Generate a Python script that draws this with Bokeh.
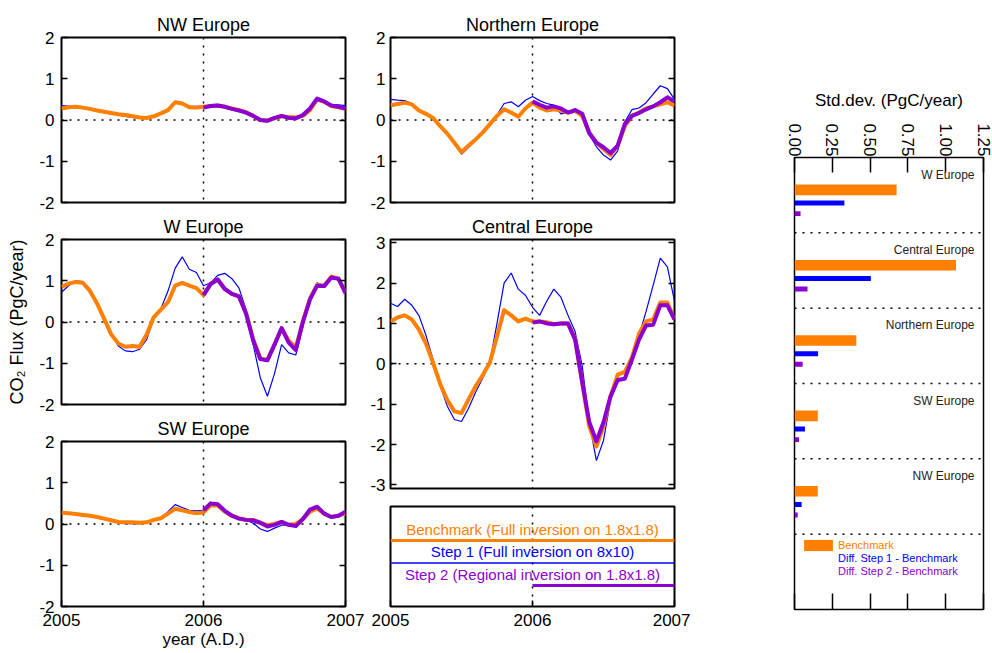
import math
from bokeh.plotting import figure
from bokeh.layouts import row, column
from bokeh.models import (Range1d, LinearAxis, FixedTicker, Span, Legend, LegendItem,
                          PrintfTickFormatter)
from bokeh.core.properties import value
from bokeh.embed import file_html
from bokeh.resources import INLINE

FONT = "Liberation Sans"
ORANGE = "#FF8000"
BLUE = "#0000FF"
PURPLE = "#8C00D2"

# ---------------- data ----------------
years = [round(2005 + 0.05 * k, 2) for k in range(41)]
step2_years = years[20:]

nw_benchmark = [0.28, 0.31, 0.32, 0.30, 0.27, 0.23, 0.20, 0.17, 0.14, 0.12, 0.09, 0.06, 0.05, 0.09, 0.16, 0.24, 0.43, 0.40, 0.31, 0.30, 0.32,
                0.34, 0.35, 0.32, 0.28, 0.24, 0.19, 0.10, 0.00, -0.01, 0.04, 0.09, 0.07, 0.06, 0.10, 0.24, 0.50, 0.44, 0.34, 0.31, 0.27]
nw_step1 = [0.35, 0.34, 0.33, 0.31, 0.27, 0.23, 0.19, 0.15, 0.12, 0.09, 0.06, 0.04, 0.05, 0.10, 0.18, 0.26, 0.44, 0.42, 0.34, 0.33, 0.34,
            0.35, 0.36, 0.33, 0.28, 0.23, 0.18, 0.09, -0.02, -0.04, 0.03, 0.10, 0.06, 0.04, 0.10, 0.24, 0.47, 0.42, 0.38, 0.37, 0.35]
nw_step2 = [0.30, 0.34, 0.35, 0.32, 0.27, 0.23, 0.18, 0.10, 0.00, -0.02, 0.05, 0.10, 0.05, 0.04, 0.12, 0.28, 0.52, 0.45, 0.35, 0.32, 0.28]

n_benchmark = [0.35, 0.39, 0.42, 0.38, 0.23, 0.15, 0.05, -0.15, -0.33, -0.55, -0.78, -0.62, -0.47, -0.30, -0.10, 0.10, 0.26, 0.18, 0.08, 0.28, 0.42,
               0.30, 0.23, 0.26, 0.23, 0.18, 0.22, 0.10, -0.30, -0.55, -0.70, -0.85, -0.62, -0.15, 0.10, 0.18, 0.28, 0.33, 0.38, 0.43, 0.35]
n_step1 = [0.50, 0.48, 0.47, 0.40, 0.26, 0.15, 0.05, -0.15, -0.35, -0.58, -0.83, -0.66, -0.50, -0.32, -0.10, 0.12, 0.40, 0.44, 0.32, 0.48, 0.57,
           0.47, 0.40, 0.36, 0.15, 0.18, 0.27, 0.10, -0.35, -0.65, -0.85, -0.97, -0.75, -0.05, 0.25, 0.29, 0.42, 0.63, 0.83, 0.76, 0.50]
n_step2 = [0.45, 0.37, 0.30, 0.33, 0.28, 0.18, 0.24, 0.15, -0.32, -0.55, -0.66, -0.80, -0.62, -0.10, 0.10, 0.17, 0.26, 0.33, 0.43, 0.55, 0.45]

w_benchmark = [0.85, 0.93, 0.97, 0.95, 0.75, 0.45, 0.08, -0.30, -0.52, -0.60, -0.58, -0.60, -0.30, 0.12, 0.30, 0.48, 0.88, 0.95, 0.88, 0.82, 0.65,
               0.92, 1.03, 0.80, 0.68, 0.62, 0.22, -0.42, -0.88, -0.92, -0.55, -0.15, -0.45, -0.62, 0.02, 0.57, 0.90, 0.88, 1.10, 1.05, 0.72]
w_step1 = [0.72, 0.88, 1.00, 0.98, 0.80, 0.50, 0.12, -0.28, -0.58, -0.70, -0.72, -0.66, -0.42, 0.08, 0.32, 0.75, 1.30, 1.58, 1.28, 1.20, 0.88,
           0.95, 1.13, 1.18, 1.05, 0.82, 0.30, -0.55, -1.35, -1.80, -1.25, -0.55, -0.75, -0.80, -0.10, 0.60, 0.95, 0.88, 1.08, 1.05, 0.75]
w_step2 = [0.65, 0.92, 1.03, 0.80, 0.68, 0.62, 0.20, -0.45, -0.90, -0.93, -0.55, -0.15, -0.50, -0.68, 0.00, 0.55, 0.88, 0.87, 1.08, 1.05, 0.70]

c_benchmark = [1.05, 1.15, 1.20, 1.10, 0.85, 0.50, 0.02, -0.50, -0.90, -1.18, -1.22, -0.88, -0.55, -0.28, 0.03, 0.68, 1.33, 1.20, 1.05, 1.12, 1.05,
               1.05, 1.03, 0.98, 1.00, 1.00, 0.62, -0.48, -1.55, -2.05, -1.55, -0.80, -0.27, -0.20, 0.15, 0.75, 1.05, 1.10, 1.52, 1.52, 1.10]
c_step1 = [1.50, 1.42, 1.60, 1.45, 1.20, 0.70, 0.10, -0.55, -1.05, -1.38, -1.43, -1.10, -0.70, -0.35, 0.05, 1.00, 2.00, 2.25, 1.85, 1.70, 1.40,
           1.20, 1.55, 1.85, 1.65, 1.20, 0.80, -0.05, -1.45, -2.40, -1.90, -0.90, -0.45, -0.35, 0.05, 0.70, 1.30, 1.95, 2.62, 2.40, 1.55]
c_step2 = [1.02, 1.05, 1.00, 0.98, 1.00, 1.00, 0.60, -0.45, -1.45, -1.92, -1.45, -0.80, -0.40, -0.37, 0.10, 0.60, 0.95, 0.97, 1.45, 1.45, 1.10]

sw_benchmark = [0.27, 0.26, 0.24, 0.22, 0.20, 0.17, 0.13, 0.09, 0.05, 0.04, 0.04, 0.03, 0.04, 0.10, 0.14, 0.25, 0.37, 0.33, 0.29, 0.26, 0.28,
                0.45, 0.45, 0.30, 0.20, 0.14, 0.10, 0.10, 0.03, -0.03, 0.00, 0.05, -0.02, 0.00, 0.12, 0.30, 0.38, 0.25, 0.17, 0.20, 0.26]
sw_step1 = [0.27, 0.26, 0.24, 0.21, 0.19, 0.15, 0.11, 0.07, 0.03, 0.01, 0.01, 0.01, 0.03, 0.08, 0.15, 0.30, 0.47, 0.40, 0.33, 0.32, 0.33,
            0.50, 0.50, 0.33, 0.22, 0.15, 0.10, 0.02, -0.12, -0.18, -0.10, -0.03, -0.02, -0.04, 0.12, 0.35, 0.45, 0.25, 0.17, 0.20, 0.30]
sw_step2 = [0.33, 0.50, 0.48, 0.32, 0.20, 0.13, 0.10, 0.09, 0.03, -0.06, -0.02, 0.05, -0.02, -0.05, 0.12, 0.35, 0.42, 0.25, 0.17, 0.20, 0.30]

series_labels = ["Benchmark (Full inversion on 1.8x1.8)",
                 "Step 1 (Full inversion on 8x10)",
                 "Step 2 (Regional inversion on 1.8x1.8)"]

bar_regions = ["W Europe", "Central Europe", "Northern Europe", "SW Europe", "NW Europe"]
std_benchmark = [0.675, 1.068, 0.409, 0.154, 0.154]
std_diff1 = [0.330, 0.505, 0.156, 0.069, 0.047]
std_diff2 = [0.040, 0.086, 0.054, 0.030, 0.021]
bar_legend = ["Benchmark", "Diff. Step 1 - Benchmark", "Diff. Step 2 - Benchmark"]
std_ticks = [0.0, 0.25, 0.5, 0.75, 1.0, 1.25]
year_ticks = [2005, 2006, 2007]


# ---------------- helpers ----------------
def dotted_span(loc, dim):
    return Span(location=loc, dimension=dim, line_color="black", line_dash="2 6",
                line_width=1.5, level="underlay")


def base_fig(width, height, xr, yr, borders, title=None):
    left, right, top, bottom = borders
    p = figure(width=width, height=height, x_range=xr, y_range=yr,
               output_backend="svg", toolbar_location=None,
               x_axis_location=None, y_axis_location=None,
               min_border_left=left, min_border_right=right,
               min_border_top=top, min_border_bottom=bottom,
               title=title)
    p.xgrid.visible = False
    p.ygrid.visible = False
    p.outline_line_color = "black"
    p.outline_line_width = 2
    p.background_fill_color = "white"
    p.border_fill_color = "white"
    if title:
        p.title.text_font = FONT
        p.title.text_font_size = "18px"
        p.title.text_font_style = "normal"
        p.title.text_color = "black"
        p.title.align = "center"
        p.title.standoff = 5
    return p


def axis(ticks, labels=True, tick_in=6, standoff=7, fmt="%d"):
    return LinearAxis(ticker=FixedTicker(ticks=ticks), major_tick_in=tick_in, major_tick_out=0,
                      formatter=PrintfTickFormatter(format=fmt),
                      minor_tick_line_color=None, axis_line_color=None,
                      major_tick_line_color="black", major_tick_line_width=1.5,
                      major_label_text_font=FONT,
                      major_label_text_color="black" if labels else None,
                      major_label_text_font_size="17px" if labels else "0px",
                      major_label_standoff=standoff if labels else 0)


def panel(name, bench, step1, step2, yr, yticks, width, height, borders,
          xlabels=False, xlabel=None, ylabel=None, ystandoff=7):
    p = base_fig(width, height, Range1d(2005, 2007), Range1d(*yr), borders, title=name)
    ya = axis(yticks, standoff=ystandoff)
    if ylabel:
        ya.axis_label = ylabel
        ya.axis_label_text_font = FONT
        ya.axis_label_text_font_size = "18px"
        ya.axis_label_text_font_style = "normal"
        ya.axis_label_text_color = "black"
        ya.axis_label_standoff = 9
    p.add_layout(ya, "left")
    p.add_layout(axis(yticks, labels=False), "right")
    if xlabels:
        xa = axis(year_ticks, standoff=7)
        if xlabel:
            xa.axis_label = xlabel
            xa.axis_label_text_font = FONT
            xa.axis_label_text_font_size = "17px"
            xa.axis_label_text_font_style = "normal"
            xa.axis_label_text_color = "black"
            xa.axis_label_standoff = 1
        p.add_layout(xa, "below")
    p.add_layout(dotted_span(0, "width"))
    p.add_layout(dotted_span(2006, "height"))
    p.line(years, step1, line_color=BLUE, line_width=1.2)
    p.line(years, bench, line_color=ORANGE, line_width=4, line_join="round")
    p.line(step2_years, step2, line_color=PURPLE, line_width=4, line_join="round")
    return p


# ---------------- left column ----------------
LW = 365
nw = panel("NW Europe", nw_benchmark, nw_step1, nw_step2, (-2.0, 2.0), [-2, -1, 0, 1, 2],
           LW, 212, (61, 20, 37, 10))
we = panel("W Europe", w_benchmark, w_step1, w_step2, (-2.0, 2.0), [-2, -1, 0, 1, 2],
           LW, 202, (61, 20, 26, 10), ylabel="CO\u2082 Flux (PgC/year)")
sw = panel("SW Europe", sw_benchmark, sw_step1, sw_step2, (-2.0, 2.0), [-2, -1, 0, 1, 2],
           LW, 239, (61, 20, 26, 47), xlabels=True, xlabel="year (A.D.)")

# ---------------- middle column ----------------
MW = 325
ne = panel("Northern Europe", n_benchmark, n_step1, n_step2, (-2.0, 2.0), [-2, -1, 0, 1, 2],
           MW, 212, (25, 16, 37, 10), ystandoff=5)
ce = panel("Central Europe", c_benchmark, c_step1, c_step2, (-3.09, 3.08), [-3, -2, -1, 0, 1, 2, 3],
           MW, 284, (25, 16, 26, 8), ystandoff=5)

lg = base_fig(MW, 157, Range1d(2005, 2007), Range1d(3.933, -0.511), (25, 16, 10, 47))
lg.add_layout(axis(year_ticks, standoff=7), "below")
lg.add_layout(dotted_span(2006, "height"))
colors = [ORANGE, BLUE, PURPLE]
starts = [years[0], years[0], step2_years[0]]
widths = [3, 1.5, 3]
for i in range(len(series_labels)):
    lg.line([starts[i], years[-1]], [i + 1, i + 1], line_color=colors[i], line_width=widths[i])
lg.text(x=[2006] * 3, y=[i + 0.5 for i in range(3)], text=series_labels,
        text_color=colors, text_align="center", text_baseline="middle",
        text_font=value(FONT), text_font_size="15px")

# ---------------- right column: std dev bars ----------------
bp = base_fig(302, 653, Range1d(0, 1.25), Range1d(len(bar_regions) + 1, 0), (104, 9, 157, 44))
bp.outline_line_width = 1.5
top_ax = axis(std_ticks, tick_in=15, standoff=1, fmt="%.2f")
top_ax.major_label_orientation = -math.pi / 2
top_ax.axis_label = "Std.dev. (PgC/year)"
top_ax.axis_label_text_font = FONT
top_ax.axis_label_text_font_size = "17px"
top_ax.axis_label_text_font_style = "normal"
top_ax.axis_label_text_color = "black"
top_ax.axis_label_standoff = 10
bp.add_layout(top_ax, "above")
bp.add_layout(axis(std_ticks, labels=False, tick_in=16), "below")

for k in range(1, len(bar_regions) + 1):
    bp.add_layout(dotted_span(k, "width"))

idx = list(range(len(bar_regions)))
r_bench = bp.hbar(y=[i + 0.43 for i in idx], left=0, right=std_benchmark, height=0.14,
                  fill_color=ORANGE, line_color=None)
bp.hbar(y=[i + 0.605 for i in idx], left=0, right=std_diff1, height=0.066,
        fill_color=BLUE, line_color=None)
bp.hbar(y=[i + 0.745 for i in idx], left=0, right=std_diff2, height=0.066,
        fill_color=PURPLE, line_color=None)
bp.text(x=[1.25] * len(idx), y=[i + 0.23 for i in idx], text=bar_regions,
        x_offset=-9, text_align="right", text_baseline="middle",
        text_font=value(FONT), text_font_size="12px", text_color="#222222")

r_d1 = bp.line(x=[], y=[], line_color=BLUE, line_width=5)
r_d2 = bp.line(x=[], y=[], line_color=PURPLE, line_width=5)
leg_renderers = [r_bench, r_d1, r_d2]
leg_bottoms = [57, 45, 32]
leg_x = [6, 10, 10]
leg_gw = [36, 29, 29]
leg_gh = [14, 11, 11]
leg_so = [2, 5, 5]
for k in range(3):
    L = Legend(items=[LegendItem(label=bar_legend[k], renderers=[leg_renderers[k]])],
               location=(leg_x[k], leg_bottoms[k]),
               padding=0, margin=0, spacing=0, glyph_width=leg_gw[k], glyph_height=leg_gh[k],
               label_height=11, label_standoff=leg_so[k], label_text_font=FONT,
               label_text_font_size="11px", label_text_color=colors[k],
               border_line_color=None, background_fill_alpha=0)
    bp.add_layout(L)

layout = row(column(nw, we, sw), column(ne, ce, lg), bp)
open("out.html", "w").write(file_html(layout, INLINE))
